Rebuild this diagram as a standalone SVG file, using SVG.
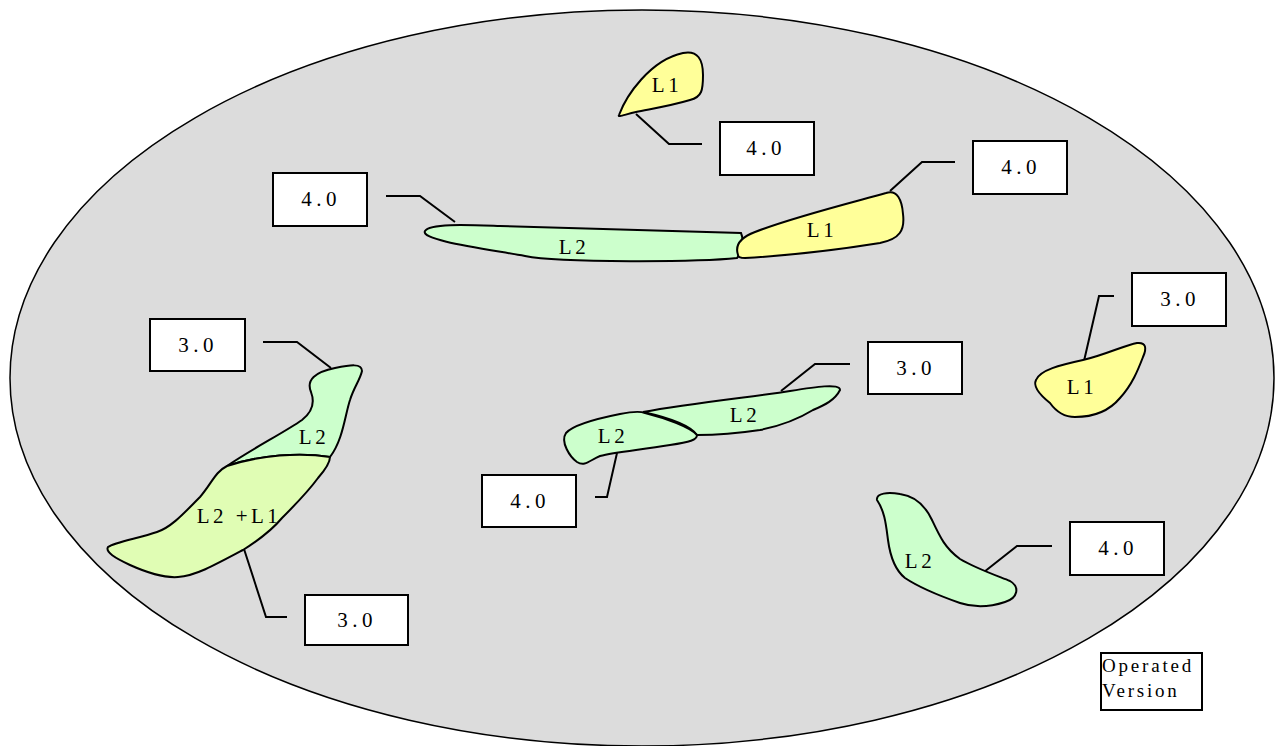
<svg xmlns="http://www.w3.org/2000/svg" width="1277" height="746" viewBox="0 0 1277 746">
<style>
.bg{fill:#dcdcdc;stroke:#000;stroke-width:1.5}
.box{fill:#fff;stroke:#000;stroke-width:2}
.y{fill:#ffff99;stroke:#000;stroke-width:2}
.g{fill:#ccffcc;stroke:#000;stroke-width:2}
.gy{fill:#e0fdb4;stroke:#000;stroke-width:2}
.ld{fill:none;stroke:#000;stroke-width:2}
text{font-family:"Liberation Serif","Times New Roman",serif;font-size:21px;fill:#000;text-anchor:middle;letter-spacing:3.5px}
.n{letter-spacing:4.5px}
.sm{font-size:19px;text-anchor:start;letter-spacing:2.8px}
</style>
<rect x="0" y="0" width="1277" height="746" fill="#fff"/>
<ellipse class="bg" cx="642" cy="378" rx="632" ry="368"/>
<g id="connectors">
<polyline class="ld" points="636,114 669,144 702,144"/>
<polyline class="ld" points="386,196 420,196 455,222"/>
<polyline class="ld" points="890,191 922,162 955,162"/>
<polyline class="ld" points="1084,361 1099,296 1114,296"/>
<polyline class="ld" points="263,342 297,342 331,368"/>
<polyline class="ld" points="781,391 815,364 850,364"/>
<polyline class="ld" points="617,453 607,497 595,497"/>
<polyline class="ld" points="984,572 1017,546 1052,546"/>
<polyline class="ld" points="244,549 266,617 287,617"/>
</g>
<g id="l1-top">
<path class="y" d="M619,115 C626,96 650,60 683,53 C698,50 703,60 703,75 C703,90 702,97 690,100 C670,106 650,109 636,112 C626,114 617,118 619,115 Z"/>
<text x="667" y="92">L1</text>
</g>
<g id="l2-long">
<path class="g" d="M425,231 C430,223 470,225 500,226 L741,233 C745,242 740,255 737,258 C700,262 560,263 525,256 C480,248 420,240 425,231 Z"/>
<text x="574" y="254">L2</text>
</g>
<g id="l1-right">
<path class="y" d="M738,255 C735,246 739,238 755,232 C790,218 850,203 886,193 C897,189 902,200 903,214 C905,230 900,239 880,243 C830,251 780,256 745,258 C740,258 738,257 738,255 Z"/>
<text x="822" y="237">L1</text>
</g>
<g id="left-l2">
<path class="g" d="M227,466 C250,450 285,432 302,420 C315,410 314,400 311,392 C306,380 315,372 335,368 C350,365 362,363 362,371 C360,380 354,387 350,400 C345,415 343,440 330,457 C300,452 260,455 227,466 Z"/>
<text x="314" y="444">L2</text>
</g>
<g id="left-l2l1">
<path class="gy" d="M227,466 C215,472 212,483 200,497 C185,512 172,527 157,532 C140,538 115,542 108,547 C105,552 115,558 130,565 C150,574 165,578 178,577 C195,576 215,565 243,550 C262,538 272,530 282,518 C295,505 310,489 318,478 C325,470 330,462 330,457 C300,452 260,455 227,466 Z"/>
<text x="239" y="523">L2 +L1</text>
</g>
<g id="mid-l2-right">
<path class="g" d="M643,412 C690,403 760,396 790,391 C815,387 840,383 840,390 C835,400 825,405 813,410 C800,418 785,425 760,430 C740,433 715,435 697,435 C690,425 670,418 643,412 Z"/>
<text x="745" y="422">L2</text>
</g>
<g id="mid-l2-left">
<path class="g" d="M566,433 C573,425 600,418 620,414 C630,412 640,411 645,413 C665,418 690,427 697,435 C697,440 690,442 670,445 C640,450 615,452 600,456 C590,460 585,467 577,462 C570,457 560,442 566,433 Z"/>
<text x="613" y="443">L2</text>
</g>
<g id="l1-far-right">
<path class="y" d="M1036,380 C1040,370 1060,365 1083,360 C1105,355 1125,345 1137,343 C1146,342 1147,348 1143,357 C1138,370 1132,385 1120,398 C1110,410 1095,417 1075,417 C1062,417 1055,410 1050,403 C1040,395 1033,386 1036,380 Z"/>
<text x="1082" y="394">L1</text>
</g>
<g id="l2-lower-right">
<path class="g" d="M877,500 C876,493 888,492 900,494 C915,496 925,505 932,520 C940,537 945,548 960,559 C975,568 995,575 1010,581 C1020,587 1018,598 1005,602 C990,607 975,608 960,603 C940,596 920,588 905,578 C895,570 890,555 888,540 C886,525 885,512 877,500 Z"/>
<text x="920" y="568">L2</text>
</g>
<g id="box-1"><rect class="box" x="720" y="122" width="94" height="53"/><text class="n" x="766" y="155">4.0</text></g>
<g id="box-2"><rect class="box" x="273" y="173" width="94" height="53"/><text class="n" x="321" y="206">4.0</text></g>
<g id="box-3"><rect class="box" x="973" y="141" width="94" height="53"/><text class="n" x="1021" y="174">4.0</text></g>
<g id="box-4"><rect class="box" x="1132" y="273" width="94" height="53"/><text class="n" x="1180" y="306">3.0</text></g>
<g id="box-5"><rect class="box" x="150" y="319" width="95" height="52"/><text class="n" x="198" y="352">3.0</text></g>
<g id="box-6"><rect class="box" x="868" y="342" width="94" height="52"/><text class="n" x="916" y="375">3.0</text></g>
<g id="box-7"><rect class="box" x="482" y="475" width="94" height="52"/><text class="n" x="530" y="508">4.0</text></g>
<g id="box-8"><rect class="box" x="1070" y="522" width="94" height="53"/><text class="n" x="1118" y="555">4.0</text></g>
<g id="box-9"><rect class="box" x="305" y="595" width="103" height="50"/><text class="n" x="357" y="627">3.0</text></g>
<g id="legend"><rect class="box" x="1101" y="653" width="101" height="57"/><text class="sm" x="1102" y="672">Operated</text><text class="sm" x="1102" y="697">Version</text></g>
</svg>
